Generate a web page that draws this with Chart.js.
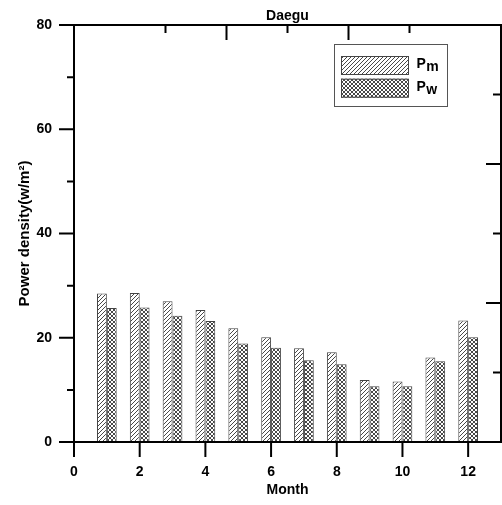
<!DOCTYPE html>
<html><head><meta charset="utf-8">
<script src="https://cdn.jsdelivr.net/npm/chart.js@4/dist/chart.umd.min.js"></script>
<style>html,body{margin:0;padding:0;background:#fff}</style>
</head><body>
<canvas id="c" width="502" height="505"></canvas>
<script>
const months = [1,2,3,4,5,6,7,8,9,10,11,12];
const pmValues = [28.5,28.6,27.0,25.3,21.8,20.1,18.0,17.2,11.9,11.6,16.2,23.3];
const pwValues = [25.7,25.8,24.2,23.2,18.9,18.1,15.7,14.9,10.7,10.7,15.5,20.1];
const seriesLabels = ['Pm','Pw'];
const xTickValues = [0,2,4,6,8,10,12];
const yTickValues = [0,20,40,60,80];
const yMinorTicks = [10,30,50,70];
const topTickValues = [1,2,3,4,5];
const rightTickValues = [1,2,3,4,5];
const titleText = 'Daegu';
const xTitle = 'Month';
const yTitle = 'Power density(w/m²)';

const FONT = '"Liberation Sans", Arial, Helvetica, sans-serif';
const canvas = document.getElementById('c');
const ctx = canvas.getContext('2d');

function makePattern(cross){
  const s = 4;
  const c = document.createElement('canvas'); c.width = s; c.height = s;
  const g = c.getContext('2d');
  g.fillStyle = '#fff'; g.fillRect(0,0,s,s);
  g.strokeStyle = '#333'; g.lineWidth = 0.9;
  g.beginPath();
  g.moveTo(0,s); g.lineTo(s,0);
  g.moveTo(-1,1); g.lineTo(1,-1);
  g.moveTo(s-1,s+1); g.lineTo(s+1,s-1);
  if (cross){
    g.moveTo(0,0); g.lineTo(s,s);
    g.moveTo(-1,s-1); g.lineTo(1,s+1);
    g.moveTo(s-1,-1); g.lineTo(s+1,1);
  }
  g.stroke();
  return ctx.createPattern(c,'repeat');
}
const hatch = makePattern(false);
const crossHatch = makePattern(true);

const framePlugin = {
  id:'frame',
  afterDatasetsDraw(chart){
    const {ctx, chartArea:{left,right,top,bottom}, scales:{x,y,x2,y2}} = chart;
    ctx.save();
    ctx.strokeStyle = '#000'; ctx.lineWidth = 2; ctx.lineCap = 'butt';
    ctx.beginPath();
    ctx.rect(left, top, right-left, bottom-top);
    yTickValues.forEach(v => { const p = y.getPixelForValue(v); ctx.moveTo(left-15,p); ctx.lineTo(left,p); });
    yMinorTicks.forEach(v => { const p = y.getPixelForValue(v); ctx.moveTo(left-7,p); ctx.lineTo(left,p); });
    xTickValues.forEach(v => { const p = x.getPixelForValue(v); ctx.moveTo(p,bottom); ctx.lineTo(p,bottom+15); });
    topTickValues.forEach(v => { const p = x2.getPixelForValue(v); const L = v%2===0?15:8; ctx.moveTo(p,top); ctx.lineTo(p,top+L); });
    rightTickValues.forEach(v => { const p = y2.getPixelForValue(v); const L = v%2===0?15:8; ctx.moveTo(right,p); ctx.lineTo(right-L,p); });
    ctx.stroke();
    ctx.restore();
  }
};

const legendPlugin = {
  id:'boxLegend',
  afterDraw(chart){
    const ctx = chart.ctx;
    ctx.save();
    ctx.strokeStyle = '#555'; ctx.lineWidth = 1;
    ctx.strokeRect(334.5, 44.5, 113, 62);
    chart.data.datasets.forEach((ds,i) => {
      const sy = 56 + i*22.7;
      ctx.fillStyle = ds.backgroundColor;
      ctx.fillRect(341, sy, 68, 19);
      ctx.strokeStyle = '#444';
      ctx.strokeRect(341.5, sy+0.5, 67, 18);
      ctx.fillStyle = '#000';
      ctx.font = 'bold 14px ' + FONT;
      ctx.textBaseline = 'alphabetic';
      ctx.textAlign = 'left';
      const main = ds.label.charAt(0), sub = ds.label.slice(1);
      ctx.fillText(main, 416.5, sy + 12.3);
      const w = ctx.measureText(main).width;
      ctx.fillText(sub, 416.5 + w + 0.5, sy + 15.3);
    });
    ctx.restore();
  }
};

new Chart(ctx, {
  type:'bar',
  data:{
    datasets:[
      { label: seriesLabels[0], data: months.map((m,i)=>({x:m, y:pmValues[i]})),
        backgroundColor: hatch, borderColor:'#444', borderWidth:1,
        categoryPercentage:0.6, barPercentage:1.0, xAxisID:'x', yAxisID:'y' },
      { label: seriesLabels[1], data: months.map((m,i)=>({x:m, y:pwValues[i]})),
        backgroundColor: crossHatch, borderColor:'#444', borderWidth:1,
        categoryPercentage:0.6, barPercentage:1.0, xAxisID:'x', yAxisID:'y' }
    ]
  },
  options:{
    responsive:false, animation:false, devicePixelRatio:1,
    layout:{ padding:{ left:0, right:1, top:0, bottom:0 } },
    scales:{
      x:{ type:'linear', position:'bottom', min:0, max:13, offset:false,
          afterBuildTicks: s => { s.ticks = xTickValues.map(v => ({value:v})); },
          ticks:{ font:{family:FONT, size:14, weight:'bold'}, color:'#000', padding:22, autoSkip:false, maxRotation:0,
                  callback: v => String(v) },
          grid:{ display:false, drawTicks:false, tickLength:0 }, border:{ display:false },
          title:{ display:true, text:xTitle, color:'#000', font:{family:FONT, size:14, weight:'bold'}, padding:{top:0,bottom:6} },
          afterFit: s => { s.height = 63; s.paddingLeft = 0; s.paddingRight = 0; } },
      y:{ type:'linear', position:'left', min:0, max:80,
          afterBuildTicks: s => { s.ticks = yTickValues.map(v => ({value:v})); },
          ticks:{ font:{family:FONT, size:14, weight:'bold'}, color:'#000', padding:22 },
          grid:{ display:false, drawTicks:false, tickLength:0 }, border:{ display:false },
          title:{ display:true, text:yTitle, color:'#000', font:{family:FONT, size:15, weight:'bold'}, padding:{top:16,bottom:0} },
          afterFit: s => { s.width = 74; s.paddingTop = 0; s.paddingBottom = 0; } },
      x2:{ type:'linear', position:'top', display:false, min:0, max:6,
           ticks:{display:false}, grid:{display:false, drawTicks:false}, afterFit: s => { s.height = 0; } },
      y2:{ type:'linear', position:'right', display:false, min:0, max:6,
           ticks:{display:false}, grid:{display:false, drawTicks:false}, afterFit: s => { s.width = 0; } }
    },
    plugins:{
      legend:{ display:false },
      tooltip:{ enabled:false },
      title:{ display:true, text:titleText, fullSize:false, color:'#000',
              font:{family:FONT, size:14, weight:'bold'}, padding:{top:8, bottom:0.2} }
    }
  },
  plugins:[framePlugin, legendPlugin]
});
</script>
</body></html>
